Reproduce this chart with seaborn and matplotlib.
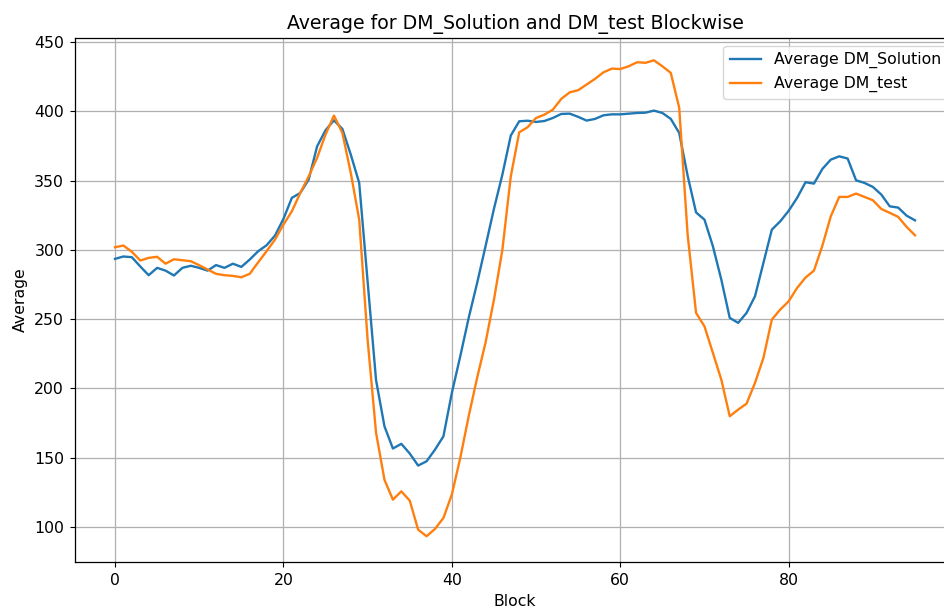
import matplotlib
matplotlib.use("Agg")
import matplotlib.pyplot as plt
import seaborn as sns
import pandas as pd

blocks = list(range(96))

dm_solution = [
    293.5, 295.2, 294.7, 288.0, 281.7, 287.0, 285.0, 281.5, 287.0, 288.5,
    287.0, 285.0, 289.0, 287.0, 290.0, 287.7, 293.0, 299.0, 303.3, 310.3,
    322.3, 337.5, 341.1, 350.7, 374.7, 386.3, 393.5, 387.3, 368.7, 348.3,
    277.0, 206.0, 172.6, 156.6, 160.0, 153.0, 144.3, 147.4, 155.8, 165.4,
    196.7, 223.2, 250.9, 276.0, 302.6, 329.6, 354.3, 382.5, 392.8, 393.2,
    392.3, 393.0, 395.2, 398.1, 398.3, 396.0, 393.3, 394.5, 397.1, 397.8,
    397.8, 398.3, 398.8, 399.0, 400.5, 398.8, 394.5, 384.4, 353.5, 327.0,
    321.8, 302.6, 278.5, 250.9, 247.3, 254.5, 266.5, 290.6, 314.6, 320.6,
    328.2, 337.5, 348.8, 347.8, 358.4, 365.1, 367.5, 365.9, 350.2, 348.3,
    345.4, 339.9, 331.4, 330.5, 324.7, 321.3,
]

dm_test = [
    301.9, 303.1, 298.6, 292.3, 294.2, 295.0, 290.0, 293.2, 292.5, 291.8,
    288.9, 285.8, 282.7, 281.7, 281.2, 280.2, 282.7, 291.0, 299.0, 307.4,
    318.2, 327.8, 341.0, 353.0, 366.4, 383.2, 396.9, 384.4, 355.5, 321.8,
    235.0, 168.0, 134.0, 119.7, 125.7, 119.0, 98.0, 93.3, 98.6, 106.5,
    123.4, 149.8, 179.9, 207.6, 233.0, 264.0, 300.0, 353.0, 384.8, 388.5,
    395.2, 397.6, 401.2, 409.0, 413.7, 415.2, 419.3, 423.4, 428.1, 430.8,
    430.5, 432.5, 435.4, 435.0, 436.8, 432.5, 427.7, 402.5, 311.0, 254.5,
    244.8, 225.6, 206.3, 179.9, 184.7, 189.0, 204.0, 222.0, 249.7, 256.9,
    262.9, 272.5, 280.0, 285.0, 303.0, 324.2, 338.2, 338.2, 340.6, 338.2,
    335.8, 329.5, 326.7, 323.8, 316.6, 310.5,
]

series_labels = ["Average DM_Solution", "Average DM_test"]

df = pd.DataFrame({"Block": blocks, "sol": dm_solution, "test": dm_test})

s = 1.13
plt.rcParams["font.family"] = ["DejaVu Sans"]
plt.rcParams["xtick.labelsize"] = 10 * s
plt.rcParams["ytick.labelsize"] = 10 * s
plt.rcParams["xtick.major.size"] = 3.5 * s
plt.rcParams["ytick.major.size"] = 3.5 * s
plt.rcParams["xtick.major.pad"] = 3.5 * s
plt.rcParams["ytick.major.pad"] = 3.5 * s
plt.rcParams["axes.linewidth"] = 0.8 * s
plt.rcParams["grid.linewidth"] = 0.8 * s

fig = plt.figure(figsize=(9.44, 6.11), dpi=100)
ax = fig.add_axes([75 / 944, 49 / 611, 880 / 944, 524 / 611])

sns.lineplot(data=df, x="Block", y="sol", ax=ax, color="#1f77b4", label=series_labels[0], linewidth=1.5 * s)
sns.lineplot(data=df, x="Block", y="test", ax=ax, color="#ff7f0e", label=series_labels[1], linewidth=1.5 * s)

ax.set_title("Average for DM_Solution and DM_test Blockwise", fontsize=12 * s, pad=6 * s)
ax.set_xlabel("Block", fontsize=10 * s, labelpad=4 * s)
ax.set_ylabel("Average", fontsize=10 * s, labelpad=4 * s)
ax.set_xlim(-4.75, 99.75)
ax.set_ylim(74.7, 452.9)
ax.grid(True)
ax.legend(loc="upper right", fontsize=10 * s)

fig.savefig("out.png", dpi=100)
